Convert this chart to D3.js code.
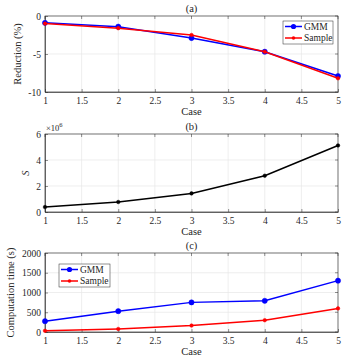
<!DOCTYPE html>
<html><head><meta charset="utf-8">
<script src="https://cdn.jsdelivr.net/npm/d3@7"></script>
<style>body{margin:0;background:#fff}text{font-family:"Liberation Serif","DejaVu Serif",serif;fill:#262626}</style>
</head><body>
<svg id="c" width="349" height="358"></svg>
<script>
const cases = [1, 2, 3, 4, 5];
const xTicks = [1, 1.5, 2, 2.5, 3, 3.5, 4, 4.5, 5];
const xTickLabels = ["1", "1.5", "2", "2.5", "3", "3.5", "4", "4.5", "5"];
const reductionGMM = [-0.9, -1.4, -2.9, -4.7, -7.9];
const reductionSample = [-1.0, -1.6, -2.5, -4.7, -8.2];
const reductionTicks = [0, -5, -10];
const sValues = [0.38, 0.77, 1.43, 2.79, 5.12]; // ×10^6
const sTicks = [0, 2, 4, 6];
const timeGMM = [273, 528, 750, 790, 1300];
const timeSample = [30, 77, 163, 299, 597];
const timeTicks = [0, 500, 1000, 1500, 2000];
const seriesNames = ["GMM", "Sample"];
const colors = {GMM: "#0000ff", Sample: "#ff0000", S: "#000000"};

const svg = d3.select("#c");
const L = 45, R = 338;

function panel(o) {
  const g = svg.append("g");
  const x = d3.scaleLinear().domain([1, 5]).range([L, R]);
  const y = d3.scaleLinear().domain(o.yDomain).range([o.bottom, o.top]);
  // grid
  g.append("g").selectAll("line").data(xTicks).join("line")
    .attr("x1", d => x(d)).attr("x2", d => x(d)).attr("y1", o.top).attr("y2", o.bottom)
    .attr("stroke", "#e6e6e6").attr("stroke-width", 0.7);
  g.append("g").selectAll("line").data(o.yTicks).join("line")
    .attr("y1", d => y(d)).attr("y2", d => y(d)).attr("x1", L).attr("x2", R)
    .attr("stroke", "#e6e6e6").attr("stroke-width", 0.7);
  // axes
  const xa = g.append("g").attr("transform", `translate(0,${o.bottom})`)
    .call(d3.axisBottom(x).tickValues(xTicks).tickFormat((d, i) => xTickLabels[i]).tickSizeInner(-3).tickSizeOuter(0).tickPadding(5));
  const ya = g.append("g").attr("transform", `translate(${L},0)`)
    .call(d3.axisLeft(y).tickValues(o.yTicks).tickFormat(o.fmt || (d => d)).tickSizeInner(-3).tickSizeOuter(0).tickPadding(4));
  [xa, ya].forEach(a => {
    a.selectAll("text").style("font-size", "9.5px").attr("fill", "#262626")
      .style("font-family", '"Liberation Serif",serif');
    a.selectAll("line").attr("stroke", "#262626").attr("stroke-width", 0.5);
    a.select(".domain").attr("stroke", "#262626").attr("stroke-width", 0.6);
  });
  // box top/right
  g.append("rect").attr("x", L).attr("y", o.top).attr("width", R - L).attr("height", o.bottom - o.top)
    .attr("fill", "none").attr("stroke", "#262626").attr("stroke-width", 0.6);
  // right/top tick marks
  g.append("g").selectAll("line").data(xTicks).join("line")
    .attr("x1", d => x(d)).attr("x2", d => x(d)).attr("y1", o.top).attr("y2", o.top + 3)
    .attr("stroke", "#262626").attr("stroke-width", 0.5);
  g.append("g").selectAll("line").data(o.yTicks).join("line")
    .attr("y1", d => y(d)).attr("y2", d => y(d)).attr("x1", R).attr("x2", R - 3)
    .attr("stroke", "#262626").attr("stroke-width", 0.5);
  // series
  o.series.forEach(s => {
    const line = d3.line().x((d, i) => x(cases[i])).y(d => y(d));
    g.append("path").datum(s.values).attr("d", line).attr("fill", "none")
      .attr("stroke", s.color).attr("stroke-width", 1.5);
    g.append("g").selectAll("circle").data(s.values).join("circle")
      .attr("cx", (d, i) => x(cases[i])).attr("cy", d => y(d)).attr("r", s.r)
      .attr("fill", s.color).attr("stroke", s.color).attr("stroke-width", 0.5);
  });
  // title
  g.append("text").attr("x", (L + R) / 2).attr("y", o.top - 4).attr("text-anchor", "middle")
    .style("font-size", "10.5px").text(o.title);
  // xlabel
  g.append("text").attr("x", (L + R) / 2).attr("y", o.bottom + 23).attr("text-anchor", "middle")
    .style("font-size", "10.5px").text("Case");
  // ylabel
  g.append("text").attr("transform", `translate(${o.ylx},${(o.top + o.bottom) / 2}) rotate(-90)`)
    .attr("text-anchor", "middle").style("font-size", "10.5px")
    .style("font-style", o.yItalic ? "italic" : "normal").text(o.ylabel);
  // legend
  if (o.legend) {
    const lg = o.legend;
    g.append("rect").attr("x", lg.x).attr("y", lg.y).attr("width", lg.w).attr("height", lg.h)
      .attr("fill", "#fff").attr("stroke", "#262626").attr("stroke-width", 0.5);
    o.series.forEach((s, i) => {
      const yy = lg.y + 5.5 + i * 11.5;
      g.append("line").attr("x1", lg.x + 2).attr("x2", lg.x + 19).attr("y1", yy).attr("y2", yy)
        .attr("stroke", s.color).attr("stroke-width", 1.5);
      g.append("circle").attr("cx", lg.x + 10.5).attr("cy", yy).attr("r", s.r).attr("fill", s.color);
      g.append("text").attr("x", lg.x + 21).attr("y", yy + 3.3).style("font-size", "9.5px").text(s.name);
    });
  }
  return {g, x, y};
}

panel({top: 16, bottom: 92, yDomain: [-10, 0], yTicks: reductionTicks, title: "(a)",
  ylabel: "Reduction (%)", ylx: 21,
  series: [{name: seriesNames[0], values: reductionGMM, color: colors.GMM, r: 2.6},
           {name: seriesNames[1], values: reductionSample, color: colors.Sample, r: 1.8}],
  legend: {x: 283, y: 21, w: 50, h: 23}});

const pb = panel({top: 134, bottom: 212, yDomain: [0, 6], yTicks: sTicks, title: "(b)",
  ylabel: "S", ylx: 29, yItalic: true,
  series: [{name: "S", values: sValues, color: colors.S, r: 1.8}]});
pb.g.append("text").attr("x", 46).attr("y", 131).style("font-size", "8.5px")
  .text("\u00d710").append("tspan").attr("dy", -4).style("font-size", "6.5px").text("6");

panel({top: 253, bottom: 332, yDomain: [0, 2000], yTicks: timeTicks, title: "(c)",
  ylabel: "Computation time (s)", ylx: 14,
  series: [{name: seriesNames[0], values: timeGMM, color: colors.GMM, r: 2.6},
           {name: seriesNames[1], values: timeSample, color: colors.Sample, r: 1.8}],
  legend: {x: 59, y: 264, w: 51, h: 23}});
</script>
</body></html>
